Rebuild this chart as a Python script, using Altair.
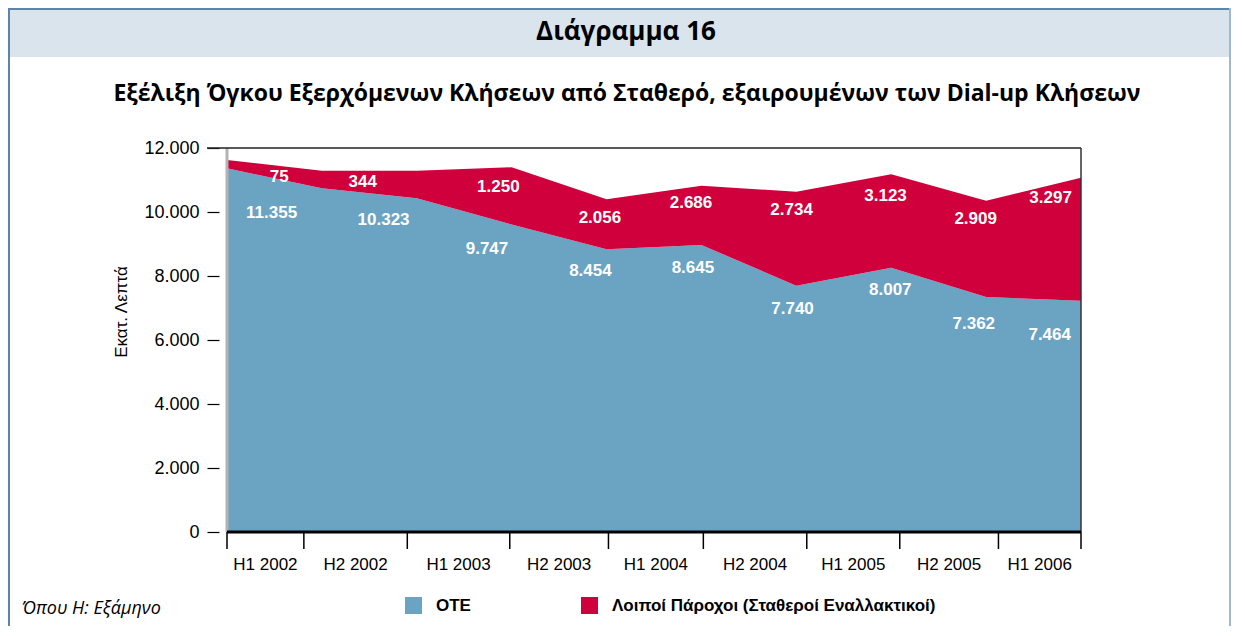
import altair as alt
import pandas as pd

# ---------------- data ----------------
periods = ["H1 2002", "H2 2002", "H1 2003", "H2 2003", "H1 2004",
           "H2 2004", "H1 2005", "H2 2005", "H1 2006"]
series = ["ΟΤΕ", "Λοιποί Πάροχοι (Σταθεροί Εναλλακτικοί)"]

# value labels printed in the chart (million minutes)
ote_values = [11355, 10323, 9747, 8454, 8645, 7740, 8007, 7362, 7464]
other_values = [75, 344, 1250, 2056, 2686, 2734, 3123, 2909, 3297]

# outline of the drawn areas (vertices on the category boundaries)
edge_x = [0, 1, 2, 3, 4, 5, 6, 7, 8, 9]
ote_edge = [11366, 10741, 10428, 9612, 8834, 8969, 7697, 8259, 7344, 7228]
total_edge = [11625, 11291, 11291, 11397, 10397, 10822, 10634, 11178, 10353, 11072]

# category boundaries as drawn on the x axis
tick_pos = [0, 0.81, 1.90, 2.98, 4.02, 5.02, 6.11, 7.09, 8.13, 9.0]

# where the value labels sit (x in category units, y in value units)
ote_label_x = [0.47, 1.65, 2.74, 3.83, 4.91, 5.96, 6.99, 7.87, 8.67]
ote_label_y = [9969, 9750, 8844, 8156, 8250, 6969, 7562, 6500, 6156]
other_label_x = [0.55, 1.43, 2.86, 3.93, 4.89, 5.95, 6.94, 7.89, 8.68]
other_label_y = [11094, 10938, 10781, 9812, 10281, 10063, 10500, 9781, 10437]

y_ticks = [0, 2000, 4000, 6000, 8000, 10000, 12000]

# ---------------- styling ----------------
BLUE = "#6ba3c3"
RED = "#cf003b"
HEADER = "#d9e4ed"
BORDER = "#5b86aa"
NARROW = "Liberation Sans, Arial, sans-serif"
HUMAN = "Open Sans, Lato, sans-serif"

W, H = 854, 384
PAD = {"left": 219, "top": 140, "right": 150, "bottom": 94}
LEFT = -PAD["left"]
RIGHT = W + PAD["right"]

# ---------------- tables ----------------
area_rows = []
for i, x in enumerate(edge_x):
    area_rows.append({"x": x, "series": series[0], "low": 0, "high": ote_edge[i], "ord": 0})
    area_rows.append({"x": x, "series": series[1], "low": ote_edge[i], "high": total_edge[i], "ord": 1})
area_df = pd.DataFrame(area_rows)

label_rows = []
for i in range(len(periods)):
    label_rows.append({"x": ote_label_x[i], "high": ote_label_y[i], "v": ote_values[i]})
    label_rows.append({"x": other_label_x[i], "high": other_label_y[i], "v": other_values[i]})
label_df = pd.DataFrame(label_rows)

tick_df = pd.DataFrame({"b": tick_pos})
cat_df = pd.DataFrame({
    "cat": periods,
    "c": [(tick_pos[i] + tick_pos[i + 1]) / 2 for i in range(len(periods))],
})
one = pd.DataFrame({"k": [0]})

xs = alt.Scale(domain=[0, 9], nice=False, zero=False)
ys = alt.Scale(domain=[0, 12000], nice=False)
yaxis = alt.Axis(
    values=y_ticks, domain=False, grid=False, ticks=True, tickSize=12,
    tickColor="black", tickWidth=1.2, offset=8, labelPadding=8,
    labelFont=NARROW, labelFontSize=18, labelColor="black", title=None,
    labelExpr="replace(format(datum.value, ','), ',', '.')")

# ---------------- layers ----------------
header = alt.Chart(one).mark_rect(color=HEADER).encode(
    x=alt.value(LEFT), x2=alt.value(RIGHT), y=alt.value(-140), y2=alt.value(-91)
)
border_left = alt.Chart(one).mark_rule(color=BORDER, strokeWidth=2).encode(
    x=alt.value(LEFT + 1), y=alt.value(-140), y2=alt.value(H + PAD["bottom"])
)
border_top = alt.Chart(one).mark_rule(color=BORDER, strokeWidth=2).encode(
    x=alt.value(LEFT), x2=alt.value(RIGHT), y=alt.value(-139)
)
border_right = alt.Chart(one).mark_rule(color="#9fb8cc", strokeWidth=2).encode(
    x=alt.value(RIGHT - 1), y=alt.value(-140), y2=alt.value(H + PAD["bottom"])
)

title1 = alt.Chart(one).mark_text(
    text="Διάγραμμα 16", font=HUMAN, fontSize=26, fontWeight="bold", color="black",
    align="center", baseline="middle"
).encode(x=alt.value(399), y=alt.value(-116))

title2 = alt.Chart(one).mark_text(
    text="Εξέλιξη Όγκου Εξερχόμενων Κλήσεων από Σταθερό, εξαιρουμένων των Dial-up Κλήσεων",
    font=HUMAN, fontSize=23, fontWeight="bold", color="black",
    align="center", baseline="middle"
).encode(x=alt.value(400), y=alt.value(-54))

footnote = alt.Chart(one).mark_text(
    text="Όπου Η: Εξάμηνο", font=HUMAN, fontSize=18, fontStyle="italic", color="black",
    align="left", baseline="middle"
).encode(x=alt.value(-205), y=alt.value(461))

ytitle = alt.Chart(one).mark_text(
    text="Εκατ. Λεπτά", font=NARROW, fontSize=17, color="black", angle=270,
    align="center", baseline="middle"
).encode(x=alt.value(-105), y=alt.value(164))

areas = alt.Chart(area_df).mark_area(opacity=1, interpolate="linear").encode(
    x=alt.X("x:Q", scale=xs, axis=None),
    y=alt.Y("high:Q", scale=ys, axis=yaxis),
    y2="low:Q",
    color=alt.Color("series:N", scale=alt.Scale(domain=series, range=[BLUE, RED]),
                    legend=alt.Legend(
                        orient="none", legendX=178, legendY=449, direction="horizontal",
                        title=None, symbolType="square", symbolSize=289,
                        symbolStrokeWidth=0, symbolOpacity=1,
                        labelFont=NARROW, labelFontSize=17, labelFontWeight="bold",
                        labelColor="black", labelOffset=14, columnPadding=110,
                        labelLimit=600)),
    order=alt.Order("ord:Q"),
)

left_line = alt.Chart(one).mark_rule(color="#b3b3b3", strokeWidth=3).encode(
    x=alt.value(0), y=alt.value(0), y2=alt.value(H)
)
top_line = alt.Chart(one).mark_rule(color="#222222", strokeWidth=1.5).encode(
    x=alt.value(-20), x2=alt.value(W), y=alt.value(0)
)
right_line = alt.Chart(one).mark_rule(color="#333333", strokeWidth=1.5).encode(
    x=alt.value(W), y=alt.value(0), y2=alt.value(H)
)
bottom_line = alt.Chart(one).mark_rule(color="black", strokeWidth=3).encode(
    x=alt.value(0), x2=alt.value(W), y=alt.value(H)
)

ticks = alt.Chart(tick_df).mark_rule(color="black", strokeWidth=1.5).encode(
    x=alt.X("b:Q", scale=xs, axis=None), y=alt.value(H), y2=alt.value(H + 17)
)
cats = alt.Chart(cat_df).mark_text(
    font=NARROW, fontSize=17, color="black", align="center", baseline="middle"
).encode(x=alt.X("c:Q", scale=xs, axis=None), y=alt.value(H + 33), text="cat:N")

labels = alt.Chart(label_df).transform_calculate(
    t="replace(format(datum.v, ','), ',', '.')"
).mark_text(
    font=NARROW, fontSize=17, fontWeight="bold", color="white",
    align="center", baseline="middle"
).encode(
    x=alt.X("x:Q", scale=xs, axis=None),
    y=alt.Y("high:Q", scale=ys, axis=yaxis),
    text="t:N",
)

chart = alt.layer(
    header, border_left, border_top, border_right, title1, title2, footnote, ytitle,
    areas, left_line, top_line, right_line, bottom_line, ticks, cats, labels,
).properties(
    width=W, height=H, padding=PAD,
    autosize=alt.AutoSizeParams(type="none"),
    background="white",
).configure_view(stroke=None)

chart.save("out.html", embed_options={"renderer": "svg", "actions": False})
